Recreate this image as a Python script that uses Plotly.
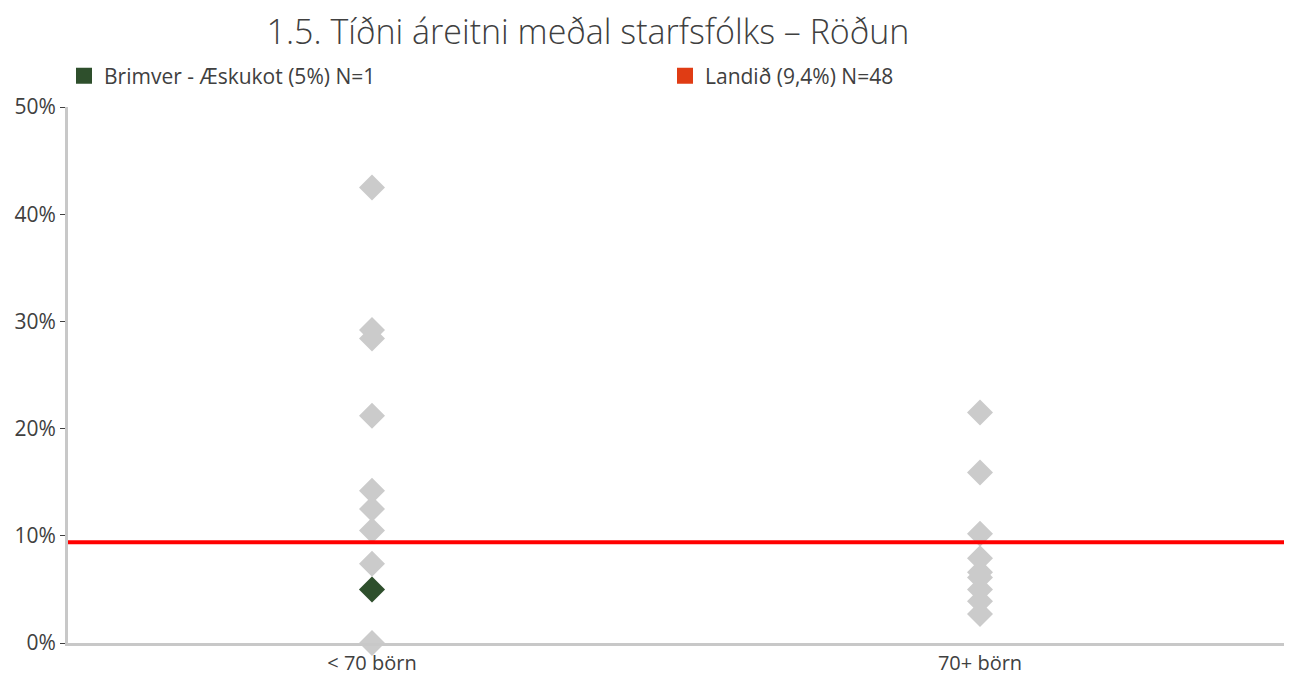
import plotly.graph_objects as go

categories = ["< 70 börn", "70+ börn"]
small_values = [42.5, 29.2, 28.4, 21.2, 14.2, 12.5, 10.5, 7.4, 5.0, 0.0]
large_values = [21.5, 15.9, 10.2, 7.9, 6.6, 6.1, 5.0, 3.9, 2.7]
highlight_category = "< 70 börn"
highlight_value = 5.0
national_value = 9.4
y_ticks = [0, 10, 20, 30, 40, 50]
y_tick_labels = ["0%", "10%", "20%", "30%", "40%", "50%"]
title_text = "1.5. Tíðni áreitni meðal starfsfólks – Röðun"
legend_highlight = "Brimver - Æskukot (5%) N=1"
legend_national = "Landið (9,4%) N=48"

GRAY = "#CBCBCB"
GREEN = "#2E4F2C"
RED_LINE = "#FF0000"
RED_LEG = "#E03C14"
TXT = "#404040"
FONT = "Open Sans"

W, H = 1285, 667

fig = go.Figure()

fig.add_trace(go.Scatter(
    x=[categories[0]] * len(small_values), y=small_values, mode="markers",
    marker=dict(symbol="diamond", size=20, color=GRAY), showlegend=False,
    cliponaxis=False, hoverinfo="y"))
fig.add_trace(go.Scatter(
    x=[categories[1]] * len(large_values), y=large_values, mode="markers",
    marker=dict(symbol="diamond", size=20, color=GRAY), showlegend=False,
    cliponaxis=False, hoverinfo="y"))
fig.add_trace(go.Scatter(
    x=[highlight_category], y=[highlight_value], mode="markers",
    marker=dict(symbol="diamond", size=20, color=GREEN), showlegend=False,
    cliponaxis=False))

# legend entries
fig.add_trace(go.Scatter(
    x=[None], y=[None], mode="markers", name=legend_highlight,
    marker=dict(symbol="square", size=16, color=GREEN)))
fig.add_trace(go.Scatter(
    x=[None], y=[None], mode="markers", name=legend_national,
    marker=dict(symbol="square", size=16, color=RED_LEG)))

fig.add_shape(type="line", xref="paper", yref="y", x0=0, x1=1,
              y0=national_value, y1=national_value,
              line=dict(color=RED_LINE, width=4), layer="above")

fig.update_layout(
    width=W, height=H,
    margin=dict(l=60, r=9, t=99, b=32),
    paper_bgcolor="white", plot_bgcolor="white",
    font=dict(family=FONT, color=TXT, size=20),
    title=dict(text=title_text, x=580 / W, xanchor="center",
               y=1 - 24 / H, yanchor="middle", yref="container",
               font=dict(size=34, color=TXT, family=FONT, weight=300)),
    legend=dict(orientation="h", x=56 / W, xanchor="left", y=1 - 68 / H,
                yanchor="middle", xref="container", yref="container",
                entrywidth=556, entrywidthmode="pixels",
                font=dict(size=21, color=TXT), itemsizing="trace",
                bgcolor="rgba(0,0,0,0)"),
    showlegend=True,
)

fig.update_xaxes(type="category", categoryorder="array", categoryarray=categories,
                 showline=True, linecolor="#C8C8C8", linewidth=3,
                 showgrid=False, ticks="", tickfont=dict(size=20, color=TXT),
                 range=[-0.5, 1.5], zeroline=False, automargin=False)
fig.update_yaxes(range=[0, 50], tickvals=y_ticks, ticktext=y_tick_labels,
                 showline=True, linecolor="#C8C8C8", linewidth=3,
                 showgrid=False, ticks="outside", ticklen=5, tickcolor=TXT,
                 tickwidth=1, tickfont=dict(size=21, color=TXT), zeroline=False,
                 automargin=False)

fig.write_html("out.html")
